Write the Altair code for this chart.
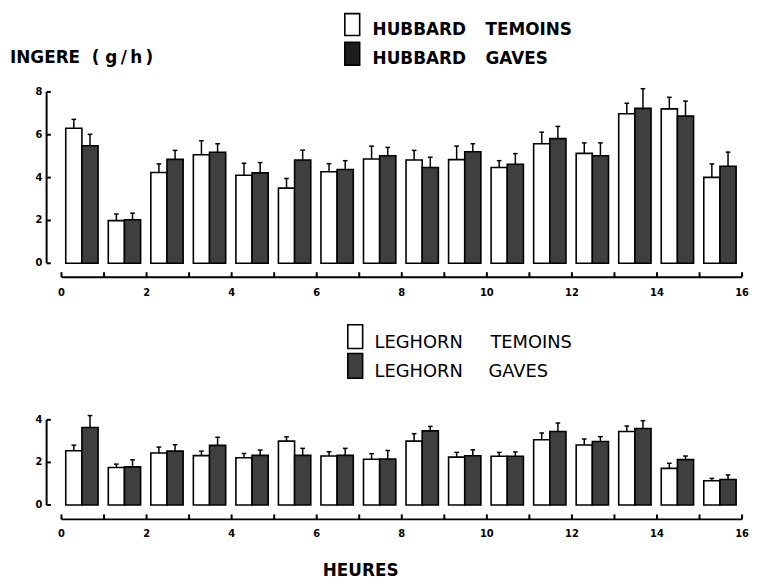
import altair as alt
import pandas as pd

# ---------------- data ----------------
hours = list(range(16))
x_tick_hours = list(range(17))
x_label_hours = [0, 2, 4, 6, 8, 10, 12, 14, 16]
top_y_ticks = [0, 2, 4, 6, 8]
bot_y_ticks = [0, 2, 4]

hub_temoins = [6.30, 1.99, 4.24, 5.07, 4.11, 3.51, 4.27, 4.87, 4.82, 4.84, 4.47, 5.58, 5.13, 6.98, 7.21, 4.01]
hub_temoins_se = [0.42, 0.31, 0.40, 0.65, 0.56, 0.45, 0.38, 0.60, 0.45, 0.63, 0.32, 0.54, 0.49, 0.49, 0.54, 0.63]
hub_gaves = [5.49, 2.03, 4.85, 5.18, 4.22, 4.82, 4.38, 5.02, 4.47, 5.21, 4.62, 5.82, 5.02, 7.23, 6.87, 4.53]
hub_gaves_se = [0.53, 0.31, 0.42, 0.40, 0.48, 0.46, 0.41, 0.39, 0.48, 0.37, 0.50, 0.57, 0.60, 0.92, 0.70, 0.66]

leg_temoins = [2.55, 1.76, 2.44, 2.32, 2.22, 3.00, 2.30, 2.15, 3.00, 2.25, 2.29, 3.06, 2.82, 3.45, 1.72, 1.14]
leg_temoins_se = [0.26, 0.16, 0.28, 0.21, 0.20, 0.20, 0.20, 0.26, 0.35, 0.22, 0.18, 0.32, 0.28, 0.26, 0.24, 0.11]
leg_gaves = [3.64, 1.79, 2.53, 2.80, 2.33, 2.33, 2.33, 2.16, 3.48, 2.31, 2.29, 3.45, 2.98, 3.59, 2.13, 1.20]
leg_gaves_se = [0.56, 0.33, 0.30, 0.38, 0.25, 0.33, 0.33, 0.40, 0.21, 0.28, 0.20, 0.40, 0.23, 0.37, 0.17, 0.21]

# ---------------- layout helpers ----------------
FONT = "DejaVu Sans"
XS = alt.Scale(domain=[0, 16], range=[54, 741], nice=False, zero=False)
YT = alt.Scale(domain=[0, 8], range=[255, 82], nice=False, zero=False)
YB = alt.Scale(domain=[0, 4], range=[499, 413], nice=False, zero=False)
FILL = alt.Scale(domain=["T", "G"], range=["white", "#3f3f3f"])


def panel_frame(tem, tem_se, gav, gav_se):
    rows = []
    for h, v, s in zip(hours, tem, tem_se):
        rows.append(dict(hour=h, grp="T", value=v, top=v + s, x0=h + 0.10, x1=h + 0.48))
    for h, v, s in zip(hours, gav, gav_se):
        rows.append(dict(hour=h, grp="G", value=v, top=v + s, x0=h + 0.48, x1=h + 0.86))
    df = pd.DataFrame(rows)
    df["xc"] = (df["x0"] + df["x1"]) / 2
    df["cl"] = df["xc"] - 0.055
    df["cr"] = df["xc"] + 0.055
    return df


def X(f):
    return alt.X(f, type="quantitative", scale=XS, axis=None)


def Y(f, ys):
    return alt.Y(f, type="quantitative", scale=ys, axis=None)


def panel(df, ys, yticks, axis_y, label_y):
    bars = alt.Chart(df).mark_bar(stroke="black", strokeWidth=1.6).encode(
        x=X("x0"), x2="x1", y=Y("value", ys), y2=alt.Y2(datum=0),
        fill=alt.Fill("grp:N", scale=FILL, legend=None),
    )
    err = alt.Chart(df).mark_rule(color="black", strokeWidth=1.5).encode(
        x=X("xc"), y=Y("value", ys), y2="top"
    )
    cap = alt.Chart(df).mark_rule(color="black", strokeWidth=1.5).encode(
        x=X("cl"), x2="cr", y=Y("top", ys)
    )
    ymax = max(yticks)
    yline = alt.Chart(pd.DataFrame({"v": [0]})).transform_calculate(
        xa="-0.35", y1=str(ymax)
    ).mark_rule(color="black", strokeWidth=2).encode(
        x=X("xa:Q"), y=Y("v", ys), y2="y1:Q"
    )
    ytk = alt.Chart(pd.DataFrame({"v": yticks})).transform_calculate(
        xa="-0.35", xb="-0.25"
    ).mark_rule(color="black", strokeWidth=2).encode(
        x=X("xa:Q"), x2="xb:Q", y=Y("v", ys)
    )
    ylab = alt.Chart(pd.DataFrame({"v": yticks})).transform_calculate(
        xl="-0.45"
    ).mark_text(font=FONT, fontWeight="bold", fontSize=10, align="right", baseline="middle").encode(
        x=X("xl:Q"), y=Y("v", ys), text="v:Q"
    )
    xline = alt.Chart(pd.DataFrame({"a": [0], "b": [16]})).mark_rule(
        color="black", strokeWidth=2
    ).encode(x=X("a"), x2="b", y=alt.value(axis_y))
    xtk = alt.Chart(pd.DataFrame({"h": x_tick_hours})).mark_rule(
        color="black", strokeWidth=2
    ).encode(x=X("h"), y=alt.value(axis_y), y2=alt.value(axis_y - 5))
    xlab = alt.Chart(pd.DataFrame({"h": x_label_hours})).mark_text(
        font=FONT, fontWeight="bold", fontSize=10, baseline="middle"
    ).encode(x=X("h"), y=alt.value(label_y), text="h:Q")
    return [bars, err, cap, yline, ytk, ylab, xline, xtk, xlab]


def box(x, y, y2, fill):
    return alt.Chart(pd.DataFrame({"a": [0]})).mark_rect(
        fill=fill, stroke="black", strokeWidth=1.6
    ).encode(x=alt.value(x), x2=alt.value(x + 15), y=alt.value(y), y2=alt.value(y2))


def label(txt, x, y, weight="bold", size=17, align="left", baseline="middle"):
    return alt.Chart(pd.DataFrame({"t": [txt]})).mark_text(
        font=FONT, fontWeight=weight, fontSize=size, align=align, baseline=baseline
    ).encode(x=alt.value(x), y=alt.value(y), text="t:N")


top_df = panel_frame(hub_temoins, hub_temoins_se, hub_gaves, hub_gaves_se)
bot_df = panel_frame(leg_temoins, leg_temoins_se, leg_gaves, leg_gaves_se)

layers = []
layers += panel(top_df, YT, top_y_ticks, 269, 285)
layers += panel(bot_df, YB, bot_y_ticks, 513.5, 528)

# legends and titles
layers += [
    box(340, 3, 25, "white"),
    box(340, 32, 55, "#1e1e1e"),
    label("HUBBARD", 368, 20),
    label("TEMOINS", 482, 20),
    label("HUBBARD", 368, 49),
    label("GAVES", 482, 49),
    box(343, 317, 341, "white"),
    box(343, 346, 371, "#3f3f3f"),
    label("LEGHORN", 370, 336, weight="normal", size=18),
    label("TEMOINS", 487, 336, weight="normal", size=18),
    label("LEGHORN", 370, 365, weight="normal", size=18),
    label("GAVES", 485, 365, weight="normal", size=18),
    label("INGERE\u00a0\u00a0(\u00a0g\u2009/\u2009h\u2009)", 2, 47.5),
    label("HEURES", 356, 558, align="center", baseline="top"),
]

chart = alt.layer(*layers).resolve_scale(y="independent").properties(
    width=748, height=572, padding=0,
    autosize=alt.AutoSizeParams(type="none"),
).configure_view(stroke=None)

chart.save("out.html", embed_options={"renderer": "svg", "actions": False})
